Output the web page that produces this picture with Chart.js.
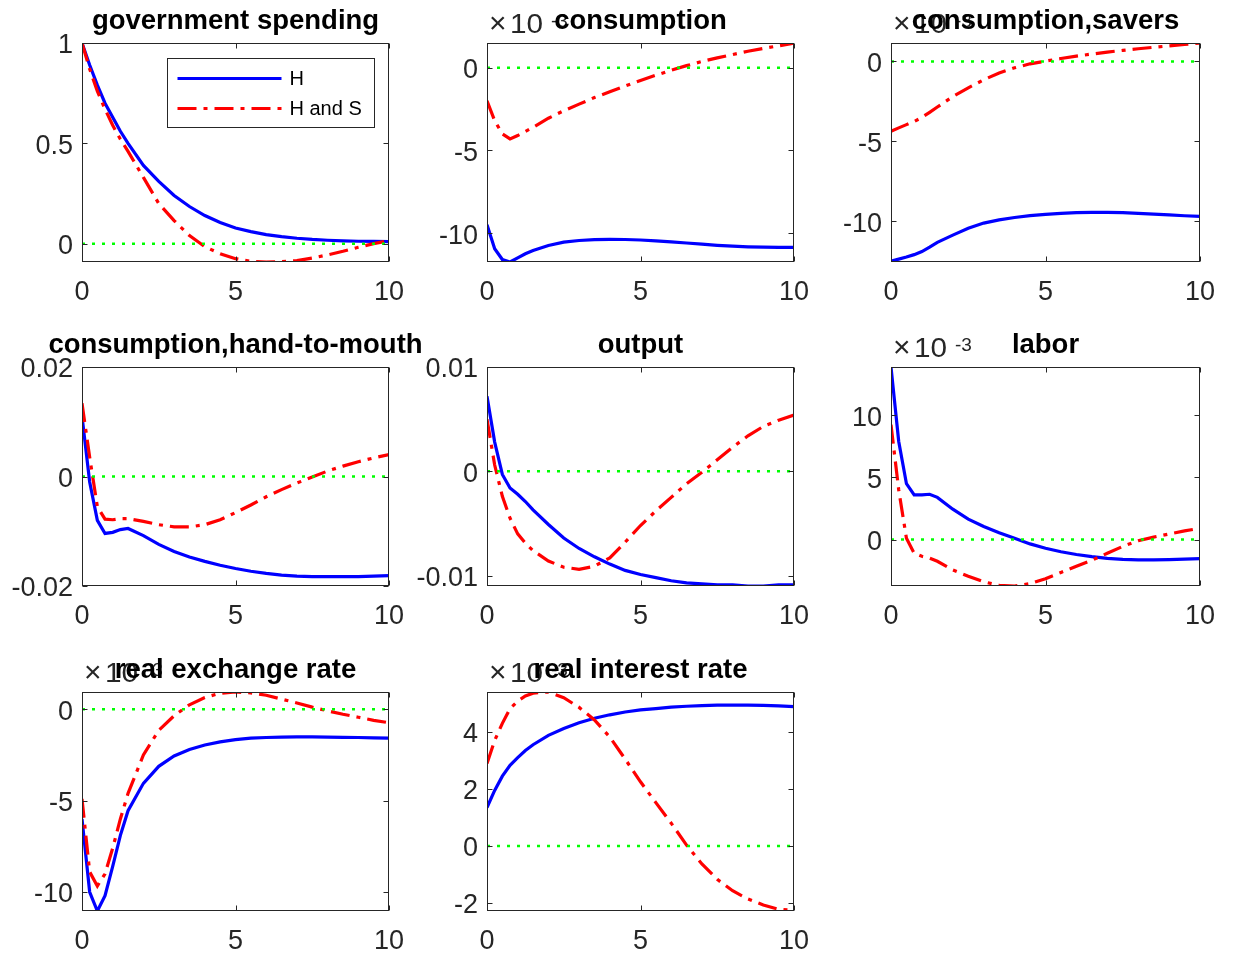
<!DOCTYPE html>
<html lang="en">
<head>
<meta charset="UTF-8">
<title>Impulse responses to a government spending shock</title>
<script src="https://cdn.jsdelivr.net/npm/chart.js"></script>
<style>
  body { margin: 0; background: #fff; }
  #fig { position: relative; width: 1233px; height: 958px; }
  #fig canvas { position: absolute; }
</style>
</head>
<body>
<div id="fig"></div>
<script>
// quarters after the shock (x axis)
const periods = [0, 0.25, 0.5, 0.75, 1, 1.25, 1.5, 2, 2.5, 3, 3.5, 4, 4.5, 5, 5.5, 6, 6.5, 7, 7.5, 8, 8.5, 9, 9.5, 10];
const seriesNames = ['H', 'H and S'];

// government spending
const govH  = [1, 0.89, 0.79, 0.70, 0.63, 0.56, 0.50, 0.39, 0.31, 0.24, 0.185, 0.14, 0.105, 0.078, 0.06, 0.045, 0.035, 0.027, 0.021, 0.017, 0.014, 0.012, 0.011, 0.01];
const govHS = [1, 0.87, 0.76, 0.67, 0.59, 0.52, 0.46, 0.33, 0.20, 0.115, 0.04, -0.015, -0.05, -0.075, -0.088, -0.0915, -0.09, -0.085, -0.072, -0.056, -0.038, -0.018, 0.0, 0.015];
// consumption (x 10^-3)
const consH  = [-9.5, -10.95, -11.6, -11.75, -11.5, -11.25, -11.05, -10.75, -10.55, -10.45, -10.4, -10.38, -10.39, -10.42, -10.47, -10.53, -10.6, -10.67, -10.74, -10.79, -10.83, -10.85, -10.86, -10.87];
const consHS = [-2.0, -3.2, -4.0, -4.3, -4.1, -3.85, -3.6, -3.05, -2.6, -2.2, -1.8, -1.45, -1.1, -0.77, -0.45, -0.15, 0.13, 0.38, 0.6, 0.8, 1.0, 1.17, 1.33, 1.49];
// consumption, savers (x 10^-3)
const saveH  = [-12.47, -12.35, -12.22, -12.07, -11.88, -11.6, -11.3, -10.85, -10.42, -10.1, -9.9, -9.75, -9.63, -9.55, -9.49, -9.45, -9.43, -9.43, -9.45, -9.49, -9.54, -9.59, -9.64, -9.68];
const saveHS = [-4.36, -4.15, -3.95, -3.75, -3.5, -3.18, -2.85, -2.2, -1.65, -1.15, -0.72, -0.4, -0.15, 0.02, 0.18, 0.33, 0.46, 0.58, 0.69, 0.79, 0.88, 0.97, 1.06, 1.15];
// consumption, hand-to-mouth
const htmH  = [0.011, -0.001, -0.008, -0.0104, -0.0102, -0.0097, -0.0095, -0.0108, -0.0124, -0.0137, -0.0147, -0.0155, -0.0162, -0.0168, -0.0173, -0.0177, -0.018, -0.0182, -0.0183, -0.0183, -0.0183, -0.0183, -0.0182, -0.0181];
const htmHS = [0.0134, 0.0035, -0.0055, -0.0078, -0.0079, -0.0077, -0.0077, -0.0082, -0.0088, -0.0092, -0.0092, -0.0088, -0.0079, -0.0066, -0.0052, -0.0037, -0.0024, -0.0012, -0.0001, 0.001, 0.0019, 0.0027, 0.0034, 0.004];
// output
const outH  = [0.0072, 0.0028, -0.0003, -0.0016, -0.0022, -0.0029, -0.0037, -0.0051, -0.0064, -0.0074, -0.0082, -0.0089, -0.0095, -0.0099, -0.0102, -0.0105, -0.0107, -0.0108, -0.0109, -0.0109, -0.011, -0.011, -0.0109, -0.0109];
const outHS = [0.005, 0.0006, -0.0024, -0.0045, -0.006, -0.0069, -0.0076, -0.0086, -0.0092, -0.0094, -0.0091, -0.0083, -0.0068, -0.0052, -0.0038, -0.0025, -0.0012, -0.0001, 0.0011, 0.0023, 0.0034, 0.0043, 0.0049, 0.0054];
// labor (x 10^-3)
const labH  = [13.9, 7.9, 4.5, 3.6, 3.6, 3.65, 3.4, 2.45, 1.65, 1.05, 0.55, 0.1, -0.35, -0.7, -0.98, -1.2, -1.38, -1.52, -1.6, -1.64, -1.64, -1.62, -1.58, -1.53];
const labHS = [9.25, 4.0, 0.1, -1.1, -1.35, -1.5, -1.75, -2.45, -2.95, -3.4, -3.68, -3.74, -3.55, -3.15, -2.65, -2.15, -1.67, -1.1, -0.55, -0.1, 0.2, 0.45, 0.7, 0.91];
// real exchange rate (x 10^-3)
const rerH  = [-6.0, -10.0, -11.04, -10.2, -8.6, -6.9, -5.55, -4.05, -3.12, -2.55, -2.2, -1.95, -1.78, -1.66, -1.58, -1.54, -1.52, -1.51, -1.51, -1.52, -1.53, -1.54, -1.56, -1.57];
const rerHS = [-4.9, -8.9, -9.67, -9.0, -7.6, -6.0, -4.6, -2.5, -1.15, -0.35, 0.25, 0.65, 0.88, 0.95, 0.9, 0.77, 0.56, 0.35, 0.12, -0.08, -0.27, -0.43, -0.6, -0.73];
// real interest rate (x 10^-3)
const rirH  = [1.35, 1.95, 2.45, 2.83, 3.1, 3.35, 3.55, 3.88, 4.12, 4.32, 4.48, 4.6, 4.7, 4.77, 4.82, 4.87, 4.9, 4.92, 4.94, 4.94, 4.94, 4.93, 4.91, 4.89];
const rirHS = [2.89, 3.7, 4.3, 4.82, 5.08, 5.26, 5.36, 5.4, 5.2, 4.86, 4.42, 3.82, 3.05, 2.25, 1.52, 0.8, 0.03, -0.63, -1.17, -1.57, -1.86, -2.07, -2.22, -2.26];

const xTicks = [0, 5, 10];
const panels = [
  { title: 'government spending', h: govH, hs: govHS, yMin: -0.0915, yMax: 1, yTicks: [0, 0.5, 1], exp: false, legend: true },
  { title: 'consumption', h: consH, hs: consHS, yMin: -11.75, yMax: 1.5, yTicks: [-10, -5, 0], exp: true },
  { title: 'consumption,savers', h: saveH, hs: saveHS, yMin: -12.53, yMax: 1.15, yTicks: [-10, -5, 0], exp: true },
  { title: 'consumption,hand-to-mouth', h: htmH, hs: htmHS, yMin: -0.02, yMax: 0.02, yTicks: [-0.02, 0, 0.02], exp: false },
  { title: 'output', h: outH, hs: outHS, yMin: -0.011, yMax: 0.01, yTicks: [-0.01, 0, 0.01], exp: false },
  { title: 'labor', h: labH, hs: labHS, yMin: -3.74, yMax: 13.9, yTicks: [0, 5, 10], exp: true },
  { title: 'real exchange rate', h: rerH, hs: rerHS, yMin: -11.04, yMax: 0.95, yTicks: [-10, -5, 0], exp: true },
  { title: 'real interest rate', h: rirH, hs: rirHS, yMin: -2.28, yMax: 5.4, yTicks: [-2, 0, 2, 4], exp: true }
];

// figure layout (pixels)
const colLeft = [82, 487, 891];
const colWidth = [307, 307, 309];
const rowTop = [43, 367, 692];
const plotH = 219;
const PAD_L = 82, PAD_T = 43, PAD_R = 40, PAD_B = 48;

const FONT = '"Liberation Sans", Arial, Helvetica, sans-serif';
const INK = '#262626';

const matlabAxes = {
  id: 'matlabAxes',
  afterDatasetsDraw(chart, args, opts) {
    const ctx = chart.ctx, a = chart.chartArea;
    const xs = chart.scales.x, ys = chart.scales.y;
    const L = Math.round(a.left) + 0.5, R = Math.round(a.right) - 0.5;
    const T = Math.round(a.top) + 0.5, B = Math.round(a.bottom) - 0.5;
    ctx.save();
    ctx.strokeStyle = INK;
    ctx.lineWidth = 1;
    ctx.setLineDash([]);
    ctx.beginPath();
    ys.ticks.forEach(t => {
      const p = Math.round(ys.getPixelForValue(t.value)) + 0.5;
      ctx.moveTo(L, p); ctx.lineTo(L + 5, p);
      ctx.moveTo(R, p); ctx.lineTo(R - 5, p);
    });
    xs.ticks.forEach(t => {
      const p = Math.round(xs.getPixelForValue(t.value)) + 0.5;
      ctx.moveTo(p, B); ctx.lineTo(p, B - 5);
      ctx.moveTo(p, T); ctx.lineTo(p, T + 5);
    });
    ctx.stroke();
    ctx.strokeRect(L, T, R - L, B - T);
    ctx.restore();
  },
  afterDraw(chart, args, opts) {
    const ctx = chart.ctx, a = chart.chartArea;
    ctx.save();
    if (opts.exp) {
      // MATLAB style exponent label above the y axis
      ctx.fillStyle = INK;
      ctx.textBaseline = 'alphabetic';
      ctx.textAlign = 'left';
      const x0 = a.left, y0 = a.top - 10;
      ctx.font = '30px ' + FONT;
      ctx.fillText('\u00d7', x0 + 2, y0);
      ctx.save();
      ctx.translate(x0 + 23, y0);
      ctx.scale(1.1, 1);
      ctx.font = '27px ' + FONT;
      ctx.fillText('10', 0, 0);
      ctx.restore();
      ctx.font = '19px ' + FONT;
      ctx.fillText('-3', x0 + 64, y0 - 6);
    }
    ctx.fillStyle = '#000';
    ctx.font = 'bold 27.5px ' + FONT;
    ctx.textAlign = 'center';
    ctx.textBaseline = 'alphabetic';
    ctx.fillText(opts.title, (a.left + a.right) / 2, a.top - 14);

    if (opts.legend) {
      const bx = Math.round(a.right) - 222 + 0.5, by = Math.round(a.top) + 15 + 0.5, bw = 207, bh = 69;
      ctx.fillStyle = '#fff';
      ctx.fillRect(bx, by, bw, bh);
      ctx.strokeStyle = INK;
      ctx.lineWidth = 1;
      ctx.strokeRect(bx, by, bw, bh);
      const ds = chart.data.datasets;
      [0, 1].forEach(i => {
        const ly = by + 20 + i * 30;
        ctx.strokeStyle = ds[i].borderColor;
        ctx.lineWidth = ds[i].borderWidth;
        ctx.setLineDash(ds[i].borderDash || []);
        ctx.beginPath();
        ctx.moveTo(bx + 10, ly);
        ctx.lineTo(bx + 114, ly);
        ctx.stroke();
        ctx.setLineDash([]);
        ctx.fillStyle = '#000';
        ctx.font = '20px ' + FONT;
        ctx.textAlign = 'left';
        ctx.textBaseline = 'middle';
        ctx.fillText(ds[i].label, bx + 122, ly + 1);
      });
    }
    ctx.restore();
  }
};

const fig = document.getElementById('fig');
panels.forEach((p, i) => {
  const col = i % 3, row = Math.floor(i / 3);
  const cv = document.createElement('canvas');
  cv.width = PAD_L + colWidth[col] + PAD_R;
  cv.height = PAD_T + plotH + PAD_B;
  cv.style.left = (colLeft[col] - PAD_L) + 'px';
  cv.style.top = (rowTop[row] - PAD_T) + 'px';
  fig.appendChild(cv);

  const pts = arr => periods.map((x, k) => ({ x: x, y: arr[k] }));
  new Chart(cv, {
    type: 'line',
    data: {
      datasets: [
        { label: seriesNames[0], data: pts(p.h), borderColor: '#0000ff', borderWidth: 3.2, order: 2 },
        { label: seriesNames[1], data: pts(p.hs), borderColor: '#ff0000', borderWidth: 3.2, borderDash: [19, 7, 4, 7], order: 1 },
        { label: 'zero', data: [{ x: 0, y: 0 }, { x: 10, y: 0 }], borderColor: '#00ff00', borderWidth: 2.5, borderDash: [3, 7], order: 0 }
      ]
    },
    options: {
      responsive: false,
      animation: false,
      events: [],
      layout: { padding: { top: PAD_T, right: PAD_R, left: 0, bottom: 0 } },
      elements: { point: { radius: 0 }, line: { tension: 0, fill: false, borderCapStyle: 'butt' } },
      plugins: {
        legend: { display: false },
        tooltip: { enabled: false },
        matlabAxes: { title: p.title, exp: p.exp, legend: !!p.legend }
      },
      scales: {
        x: {
          type: 'linear', min: 0, max: 10,
          grid: { display: false, drawTicks: false },
          border: { display: false },
          ticks: { autoSkip: false, color: INK, font: { family: FONT, size: 27 }, padding: 14, maxRotation: 0,
                   callback: v => String(v) },
          afterBuildTicks: s => { s.ticks = xTicks.map(v => ({ value: v })); },
          afterFit: s => { s.height = PAD_B; }
        },
        y: {
          type: 'linear', min: p.yMin, max: p.yMax,
          grid: { display: false, drawTicks: false },
          border: { display: false },
          ticks: { autoSkip: false, color: INK, font: { family: FONT, size: 27 }, padding: 9, labelOffset: 3,
                   callback: v => String(v) },
          afterBuildTicks: s => { s.ticks = p.yTicks.map(v => ({ value: v })); },
          afterFit: s => { s.width = PAD_L; }
        }
      }
    },
    plugins: [matlabAxes]
  });
});
</script>
</body>
</html>
